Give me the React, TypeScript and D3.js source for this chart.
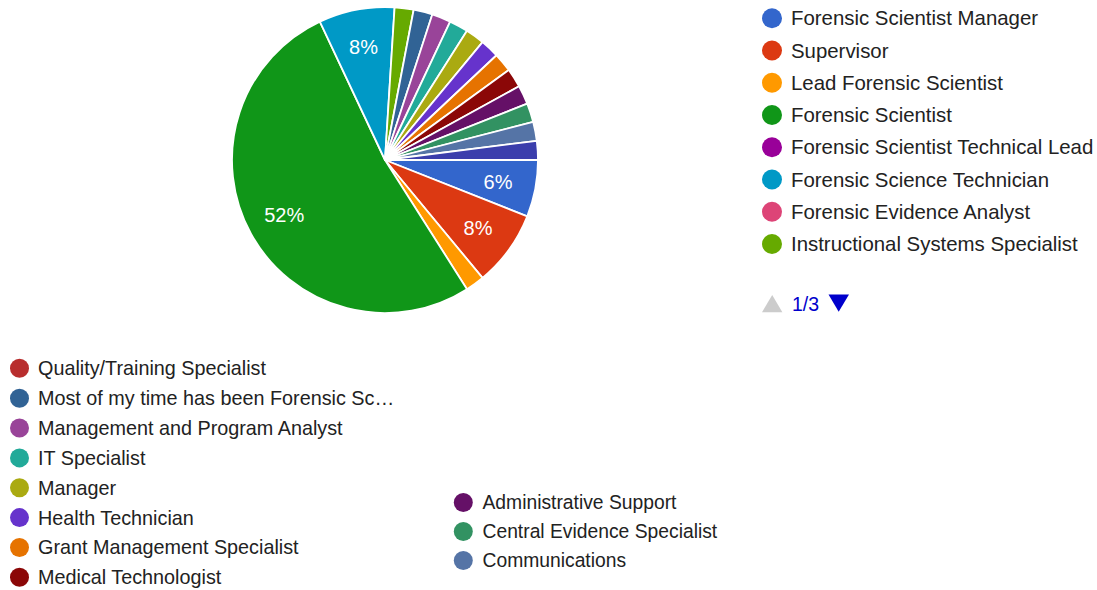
import React from "react";
import * as d3 from "d3";

const categories = [
  "Forensic Scientist Manager",
  "Supervisor",
  "Lead Forensic Scientist",
  "Forensic Scientist",
  "Forensic Scientist Technical Lead",
  "Forensic Science Technician",
  "Forensic Evidence Analyst",
  "Instructional Systems Specialist",
  "Quality/Training Specialist",
  "Most of my time has been Forensic Sc…",
  "Management and Program Analyst",
  "IT Specialist",
  "Manager",
  "Health Technician",
  "Grant Management Specialist",
  "Medical Technologist",
  "Administrative Support",
  "Central Evidence Specialist",
  "Communications",
  "Other",
];

// share of responses (%)
const values = [6, 8, 2, 52, 0, 8, 0, 2, 0, 2, 2, 2, 2, 2, 2, 2, 2, 2, 2, 2];

const colors = [
  "#3366CC", "#DC3912", "#FF9900", "#109618", "#990099", "#0099C6", "#DD4477",
  "#66AA00", "#B82E2E", "#316395", "#994499", "#22AA99", "#AAAA11", "#6633CC",
  "#E67300", "#8B0707", "#651067", "#329262", "#5574A6", "#3B3EAC",
];

const pagerLabel = "1/3";

const FONT = "'Liberation Sans', Arial, sans-serif";

export default function App() {
  const width = 1097;
  const height = 590;
  const cx = 385;
  const cy = 160;
  const R = 153;

  const data = categories.map((c, i) => ({ name: c, value: values[i], color: colors[i] }));
  const total = d3.sum(values);
  const pie = d3
    .pie<any>()
    .sort(null)
    .value((d: any) => d.value)
    .startAngle(Math.PI / 2)
    .endAngle(Math.PI / 2 + 2 * Math.PI);
  const arcs = pie(data).filter((a) => a.data.value > 0);
  const arc = d3.arc<any>().innerRadius(0).outerRadius(R);
  const labelArc = d3.arc<any>().innerRadius(115).outerRadius(115);

  const rightItems = data.slice(0, 8);
  const bottomCol1 = data.slice(8, 16);
  const bottomCol2 = data.slice(16, 19);

  return (
    <svg
      width={width}
      height={height}
      style={{ position: "absolute", left: 0, top: 0, background: "#fff" }}
      fontFamily={FONT}
    >
      <g transform={`translate(${cx},${cy})`}>
        {arcs.map((a, i) => (
          <path key={i} d={arc(a) as string} fill={a.data.color} stroke="#fff" strokeWidth={1.8} strokeLinejoin="round" />
        ))}
        {arcs
          .filter((a) => a.data.value / total >= 0.05)
          .map((a, i) => {
            const [x, y] = labelArc.centroid(a);
            return (
              <text key={i} x={x} y={y} fill="#fff" fontSize={20} textAnchor="middle" dominantBaseline="central">
                {Math.round((a.data.value / total) * 100)}%
              </text>
            );
          })}
      </g>

      {rightItems.map((d, i) => {
        const y = 18.3 + i * 32.24;
        return (
          <g key={d.name}>
            <circle cx={772} cy={y} r={10} fill={d.color} />
            <text x={791} y={y} fontSize={20.4} fill="#222" dominantBaseline="central">
              {d.name}
            </text>
          </g>
        );
      })}

      <path d="M762,312.3 L772.2,295 L782.4,312.3 Z" fill="#cccccc" />
      <text x={792} y={304} fontSize={19.5} fill="#0000cc" dominantBaseline="central">
        {pagerLabel}
      </text>
      <path d="M828.5,294.5 L849,294.5 L838.7,311.8 Z" fill="#0000cc" />

      {bottomCol1.map((d, i) => {
        const y = 368.3 + i * 29.86;
        return (
          <g key={d.name}>
            <circle cx={19.5} cy={y} r={9.5} fill={d.color} />
            <text x={38} y={y} fontSize={19.8} fill="#222" dominantBaseline="central">
              {d.name}
            </text>
          </g>
        );
      })}
      {bottomCol2.map((d, i) => {
        const y = 502.5 + i * 29;
        return (
          <g key={d.name}>
            <circle cx={463.3} cy={y} r={9.5} fill={d.color} />
            <text x={482.5} y={y} fontSize={19.3} fill="#222" dominantBaseline="central">
              {d.name}
            </text>
          </g>
        );
      })}
    </svg>
  );
}
